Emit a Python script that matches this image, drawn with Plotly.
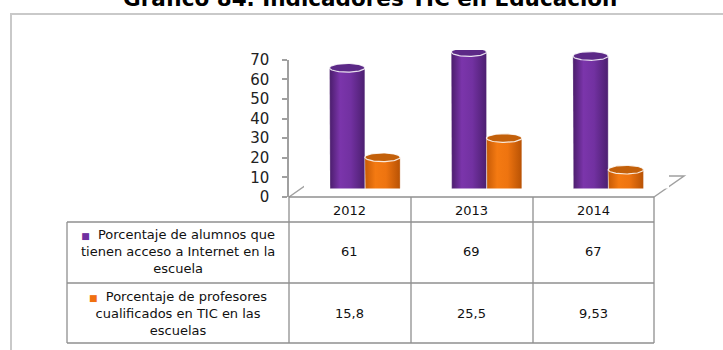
import numpy as np
import plotly.graph_objects as go

# ---- data ----
years = ["2012", "2013", "2014"]
alumnos_internet = [61, 69, 67]
profesores_tic = [15.8, 25.5, 9.53]
alumnos_label = ["Porcentaje de alumnos que", "tienen acceso a Internet en la", "escuela"]
profesores_label = ["Porcentaje de profesores", "cualificados en TIC en las", "escuelas"]
value_text_alumnos = ["61", "69", "67"]
value_text_profesores = ["15,8", "25,5", "9,53"]
y_ticks = [0, 10, 20, 30, 40, 50, 60, 70]

W, H = 723, 350
FONT = "DejaVu Sans"
PURPLE_SCALE = [[0, "#4a1d6b"], [0.3, "#7b35ab"], [0.6, "#7231a1"], [1, "#4c1f70"]]
ORANGE_SCALE = [[0, "#c65a06"], [0.3, "#f47a12"], [0.6, "#ee7410"], [1, "#b85204"]]
PURPLE_TOP = "#5c2987"
ORANGE_TOP = "#c3600a"


def px(x):
    return x / W


def py(y):
    return 1 - y / H


fig = go.Figure()

# cylinder geometry (in axis units of the mid-depth plane)
half_w = 0.145
off = 0.145
ell_h = 2.2
t = np.linspace(np.pi, 2 * np.pi, 40)
tt = np.linspace(0, 2 * np.pi, 80)


def cylinder(xc, v, scale, top_color):
    xs = [xc - half_w, xc - half_w] + list(xc + half_w * np.cos(t)) + [xc + half_w, xc + half_w]
    ys = [v, 0] + list(ell_h * np.sin(t)) + [0, v]
    fig.add_trace(go.Scatter(
        x=xs, y=ys, xaxis="x2", yaxis="y2", mode="lines", fill="toself",
        fillgradient=dict(type="horizontal", colorscale=scale),
        line=dict(color="rgba(255,255,255,0.35)", width=0.8),
        hoverinfo="skip", showlegend=False))
    fig.add_trace(go.Scatter(
        x=list(xc + half_w * np.cos(tt)), y=list(v + ell_h * np.sin(tt)),
        xaxis="x2", yaxis="y2", mode="lines", fill="toself", fillcolor=top_color,
        line=dict(color="rgba(255,255,255,0.85)", width=1.2),
        hoverinfo="skip", showlegend=False))


for i in range(len(years)):
    cylinder(i - off, alumnos_internet[i], PURPLE_SCALE, PURPLE_TOP)
    cylinder(i + off, profesores_tic[i], ORANGE_SCALE, ORANGE_TOP)

# invisible trace so the front axes are active
fig.add_trace(go.Scatter(x=[0, 2], y=[0, 0], xaxis="x", yaxis="y", mode="markers",
                         marker=dict(opacity=0), hoverinfo="skip", showlegend=False))

shapes = []
grid = dict(color="#a0a0a0", width=1.5)
# chart border
shapes.append(dict(type="rect", xref="paper", yref="paper", x0=px(11), x1=px(780),
                   y0=py(420), y1=py(14), line=dict(color="#c9c9c9", width=2)))
# floor (behind the cylinders)
shapes.append(dict(type="path", xref="paper", yref="paper", layer="below",
                   path=f"M {px(289)},{py(197)} L {px(319)},{py(176)} L {px(684)},{py(176)} L {px(654)},{py(197)}",
                   line=grid))
# data table grid
tbl = dict(color="#8f8f8f", width=1.3)
for x in [289, 411, 533, 654]:
    shapes.append(dict(type="line", xref="paper", yref="paper", x0=px(x), x1=px(x),
                       y0=py(197), y1=py(343), line=tbl))
shapes.append(dict(type="line", xref="paper", yref="paper", x0=px(67), x1=px(67),
                   y0=py(222), y1=py(343), line=tbl))
shapes.append(dict(type="line", xref="paper", yref="paper", x0=px(289), x1=px(654),
                   y0=py(197), y1=py(197), line=tbl))
for y in [222, 283, 343]:
    shapes.append(dict(type="line", xref="paper", yref="paper", x0=px(67), x1=px(654),
                       y0=py(y), y1=py(y), line=tbl))

annotations = []
annotations.append(dict(text="<b>Gráfico 84. Indicadores TIC en Educación</b>", xref="paper", yref="paper",
                        x=px(370), y=py(13), xanchor="center", yanchor="bottom", showarrow=False,
                        font=dict(family=FONT, size=21.5, color="#000000")))
cell_font = dict(family=FONT, size=13, color="#111111")
for i, yr in enumerate(years):
    annotations.append(dict(text=yr, xref="x", yref="paper", x=i, y=py(210),
                            xanchor="center", yanchor="middle", showarrow=False, font=cell_font))
    annotations.append(dict(text=value_text_alumnos[i], xref="x", yref="paper", x=i, y=py(251),
                            xanchor="center", yanchor="middle", showarrow=False, font=cell_font))
    annotations.append(dict(text=value_text_profesores[i], xref="x", yref="paper", x=i, y=py(313),
                            xanchor="center", yanchor="middle", showarrow=False, font=cell_font))


def row_label(lines, color):
    first = f'<span style="color:{color};font-size:9px">■</span>  ' + lines[0]
    return "<br>".join([first] + lines[1:])


annotations.append(dict(text=row_label(alumnos_label, "#7030a0"), xref="paper", yref="paper",
                        x=px(178), y=py(251), xanchor="center", yanchor="middle",
                        align="center", showarrow=False, font=cell_font))
annotations.append(dict(text=row_label(profesores_label, "#f07010"), xref="paper", yref="paper",
                        x=px(178), y=py(313), xanchor="center", yanchor="middle",
                        align="center", showarrow=False, font=cell_font))

fig.update_layout(
    width=W, height=H, margin=dict(l=0, r=0, t=0, b=0, pad=0, autoexpand=False),
    paper_bgcolor="white", plot_bgcolor="white",
    showlegend=False,
    xaxis=dict(domain=[px(289), px(654)], range=[-0.5, 2.5], visible=False, anchor="y"),
    yaxis=dict(domain=[py(197), py(59.7)], range=[0, 70], tickvals=y_ticks,
               showgrid=False, zeroline=False, showline=True, linecolor="#a0a0a0", linewidth=1.5,
               ticks="outside", ticklen=5, tickcolor="#a0a0a0", tickwidth=1.5,
               ticklabelstandoff=10, automargin=False,
               tickfont=dict(family=FONT, size=15, color="#222222"), anchor="x"),
    xaxis2=dict(domain=[px(304), px(669)], range=[-0.5, 2.5], visible=False, anchor="y2"),
    yaxis2=dict(domain=[py(188.5), py(50)], range=[0, 70], visible=False, anchor="x2"),
    shapes=shapes, annotations=annotations,
)

fig.write_html("out.html")
